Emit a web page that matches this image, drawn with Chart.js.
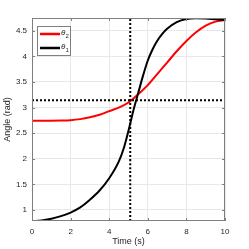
<!DOCTYPE html>
<html>
<head>
<meta charset="utf-8">
<script src="https://cdn.jsdelivr.net/npm/chart.js@4/dist/chart.umd.min.js"></script>
<style>
  html, body { margin: 0; padding: 0; background: #fff; }
  #wrap { width: 249px; height: 249px; }
</style>
</head>
<body>
<div id="wrap"><canvas id="c" width="249" height="249"></canvas></div>
<script>
// time samples (s) and angles (rad)
const timeT1 = [0, 0.5, 1, 1.5, 2, 2.5, 3, 3.5, 4, 4.5, 4.75, 5, 5.25, 5.5, 5.75, 6, 6.25, 6.5, 6.75, 7, 7.5, 8, 8.5, 9, 9.5, 10];
const theta1 = [0.785, 0.795, 0.83, 0.88, 0.95, 1.05, 1.2, 1.38, 1.62, 1.95, 2.2, 2.55, 2.94, 3.28, 3.62, 3.92, 4.14, 4.31, 4.44, 4.54, 4.67, 4.73, 4.745, 4.74, 4.725, 4.712];
const timeT2 = [0, 1, 1.5, 2, 2.5, 3, 3.5, 4, 4.5, 5, 5.5, 6, 6.5, 7, 7.5, 8, 8.5, 9, 9.5, 10];
const theta2 = [2.745, 2.745, 2.748, 2.755, 2.775, 2.81, 2.86, 2.93, 3.0, 3.1, 3.26, 3.44, 3.66, 3.88, 4.1, 4.3, 4.47, 4.6, 4.68, 4.712];
const crossTime = 5.09;
const crossAngle = 3.1416;
const xTicks = [0, 2, 4, 6, 8, 10];
const yTicks = [1, 1.5, 2, 2.5, 3, 3.5, 4, 4.5];
const xMin = 0, xMax = 10, yMin = 0.785, yMax = 4.75;

const FONT = 'Helvetica, "Liberation Sans", Arial, sans-serif';
const AXIS = '#262626';

const pts = (xs, ys) => xs.map((x, i) => ({ x, y: ys[i] }));

// box, inward ticks and the legend drawn MATLAB-style
const frame = {
  id: 'frame',
  afterDatasetsDraw(chart) {
    const { ctx, chartArea: a, scales: { x, y } } = chart;
    ctx.save();
    ctx.strokeStyle = '#7f7f7f';
    ctx.lineWidth = 1;
    ctx.strokeRect(a.left + 0.5, a.top + 0.5, a.right - a.left - 1, a.bottom - a.top - 1);
    ctx.beginPath();
    xTicks.forEach(v => {
      const px = Math.round(x.getPixelForValue(v)) + 0.5;
      ctx.moveTo(px, a.bottom); ctx.lineTo(px, a.bottom - 3);
      ctx.moveTo(px, a.top); ctx.lineTo(px, a.top + 3);
    });
    yTicks.forEach(v => {
      const py = Math.round(y.getPixelForValue(v)) + 0.5;
      ctx.moveTo(a.left, py); ctx.lineTo(a.left + 3, py);
      ctx.moveTo(a.right, py); ctx.lineTo(a.right - 3, py);
    });
    ctx.stroke();

    // legend
    const lx = 37.5, ly = 26.5, lw = 33, lh = 29;
    ctx.fillStyle = '#fff';
    ctx.fillRect(lx, ly, lw, lh);
    ctx.strokeStyle = '#7f7f7f';
    ctx.strokeRect(lx, ly, lw, lh);
    const items = [
      { color: '#ff0000', sub: '2', yy: 34 },
      { color: '#000000', sub: '1', yy: 48 }
    ];
    items.forEach(it => {
      ctx.strokeStyle = it.color;
      ctx.lineWidth = 2.5;
      ctx.beginPath();
      ctx.moveTo(40, it.yy); ctx.lineTo(60, it.yy);
      ctx.stroke();
      ctx.fillStyle = AXIS;
      ctx.textBaseline = 'middle';
      ctx.textAlign = 'left';
      ctx.font = 'italic 8px ' + FONT;
      ctx.fillText('θ', 61, it.yy - 1);
      ctx.font = '6px ' + FONT;
      ctx.fillText(it.sub, 65.5, it.yy + 2);
    });
    ctx.restore();
  }
};

new Chart(document.getElementById('c'), {
  type: 'line',
  data: {
    datasets: [
      { label: 'θ2', data: pts(timeT2, theta2), borderColor: '#ff0000', borderWidth: 2, order: 3 },
      { label: 'θ1', data: pts(timeT1, theta1), borderColor: '#000000', borderWidth: 2, order: 2 },
      { label: 'tc', data: pts([crossTime, crossTime], [yMin, yMax]), borderColor: '#000000', borderWidth: 2, borderDash: [2, 2], tension: 0, order: 1 },
      { label: 'ac', data: pts([xMin, xMax], [crossAngle, crossAngle]), borderColor: '#000000', borderWidth: 2, borderDash: [2, 2], tension: 0, order: 0 }
    ]
  },
  options: {
    responsive: false,
    animation: false,
    layout: { padding: { left: 0, right: 24, top: 18, bottom: 0 } },
    elements: { point: { radius: 0 }, line: { cubicInterpolationMode: 'monotone', borderCapStyle: 'butt' } },
    plugins: { legend: { display: false }, tooltip: { enabled: false } },
    scales: {
      x: {
        type: 'linear', min: xMin, max: xMax,
        afterBuildTicks: s => { s.ticks = xTicks.map(v => ({ value: v })); },
        afterFit: s => { s.height = 28; },
        grid: { color: '#e8e8e8', drawTicks: false },
        border: { display: false },
        ticks: { color: AXIS, font: { family: FONT, size: 8 }, padding: 6, maxRotation: 0 },
        title: { display: true, text: 'Time (s)', color: AXIS, font: { family: FONT, size: 9 }, padding: { top: 0, bottom: 2 } }
      },
      y: {
        type: 'linear', min: yMin, max: yMax,
        afterBuildTicks: s => { s.ticks = yTicks.map(v => ({ value: v })); },
        afterFit: s => { s.width = 32; },
        grid: { color: '#e8e8e8', drawTicks: false },
        border: { display: false },
        ticks: { color: AXIS, font: { family: FONT, size: 8 }, padding: 5, callback: v => String(v) },
        title: { display: true, text: 'Angle (rad)', color: AXIS, font: { family: FONT, size: 9 }, padding: { top: 2, bottom: 0 } }
      }
    }
  },
  plugins: [frame]
});
</script>
</body>
</html>
